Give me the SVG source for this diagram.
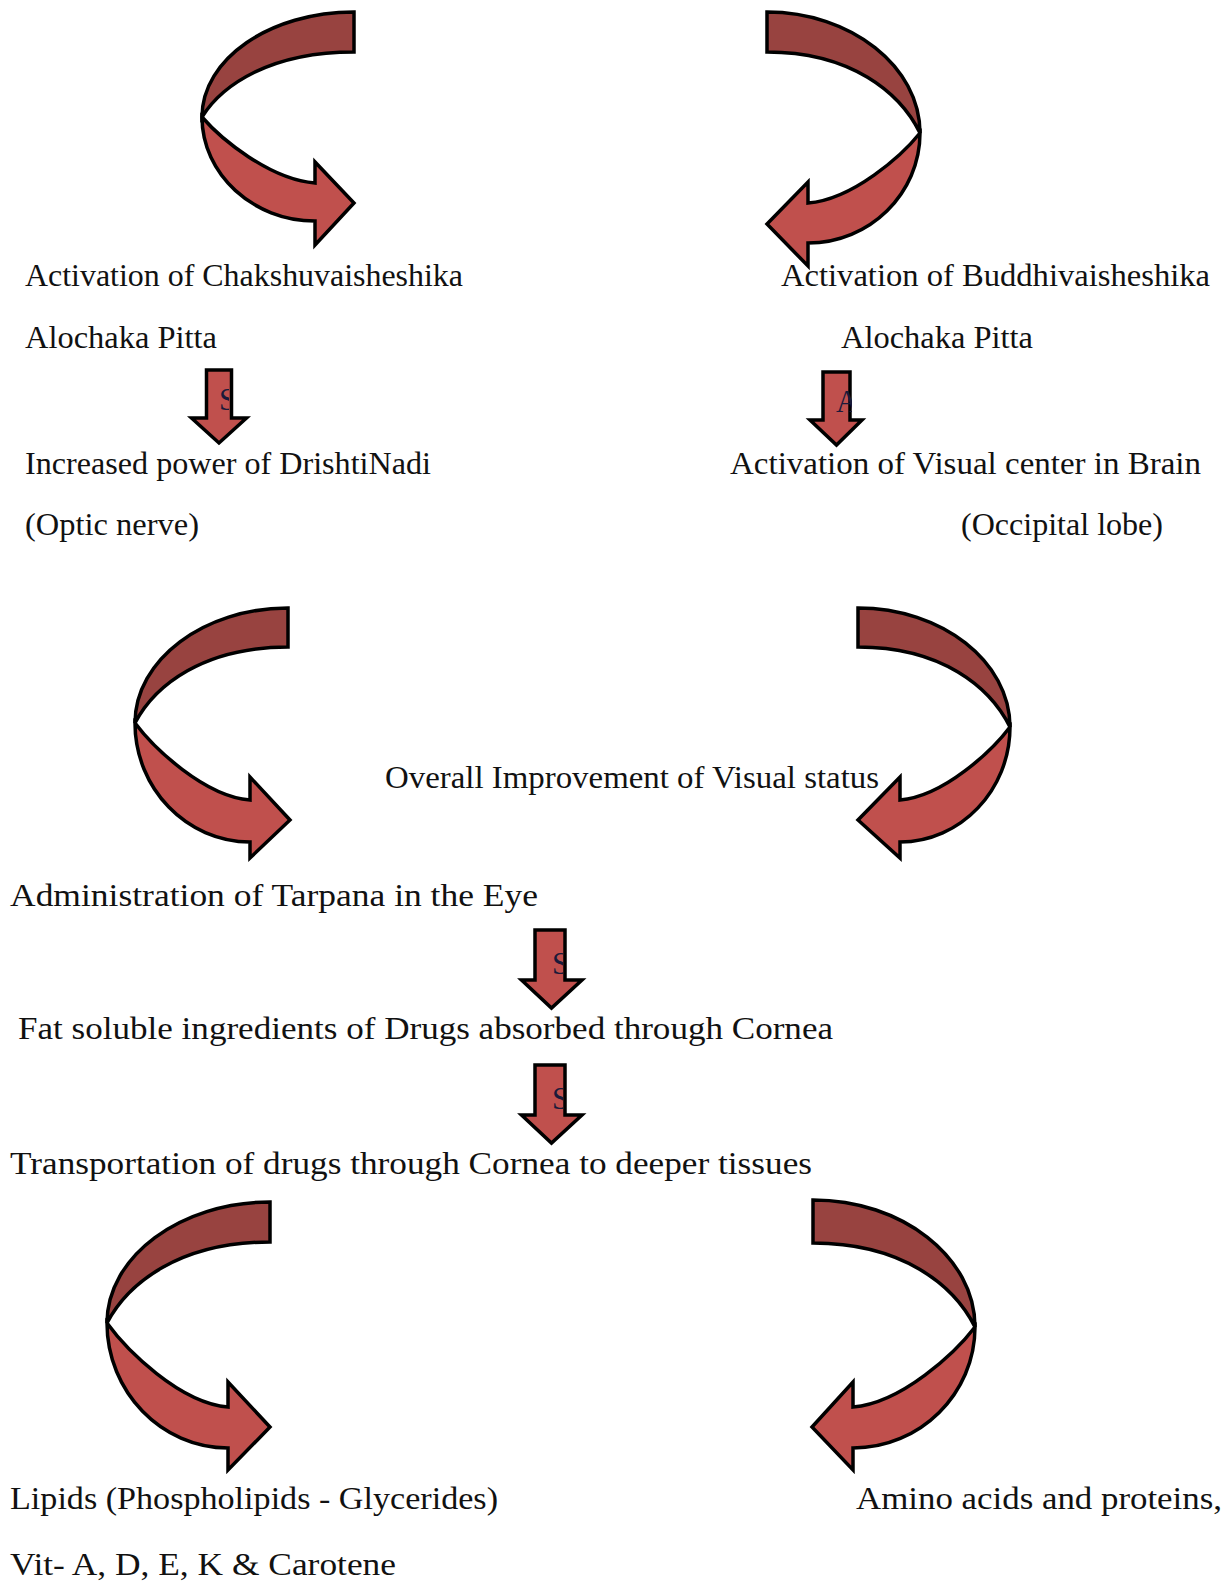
<svg xmlns="http://www.w3.org/2000/svg" width="1231" height="1583" viewBox="0 0 1231 1583">
<style>
.t{font-family:"Liberation Serif","Times New Roman",serif;font-size:32px;fill:#111}
.lbl{font-family:"Liberation Serif","Times New Roman",serif;font-size:31px;fill:#1a1a3a}
.up{fill:#984340;stroke:#000;stroke-width:3.5;stroke-linejoin:miter}
.lo{fill:#C0504D;stroke:#000;stroke-width:3.5;stroke-linejoin:miter}
.sa{fill:#C0504D;stroke:#000;stroke-width:3.5;stroke-linejoin:miter}
</style>
<defs>
<clipPath id="cA"><rect x="205" y="370" width="24" height="50"/></clipPath>
<clipPath id="cB"><rect x="823" y="370" width="29" height="50"/></clipPath>
<clipPath id="cC"><rect x="535" y="930" width="28" height="50"/></clipPath>
<clipPath id="cD"><rect x="535" y="1065" width="28" height="50"/></clipPath>
</defs>
<rect width="1231" height="1583" fill="#fff"/>
<g id="connectors">
<g id="curve1">
<path class="up" d="M354,12 C270,12 202,59 202,117 C222,85 270,52 354,52 Z"/>
<path class="lo" d="M202,117 C202,174 253,221 315,221 L315,245 L354,203 L315,162 L315,183 C269.8,179.7 220.1,138.1 202,117 Z"/>
</g>
<g id="curve2">
<path class="up" d="M767,12 C851,12 920,66.5 920,133 C900,92.5 851,52 767,52 Z"/>
<path class="lo" d="M920,133 C920,193.5 869.6,243 808,243 L808,266 L767,224 L808,182 L808,203 C852.8,199.5 902.1,155.4 920,133 Z"/>
</g>
<g id="curve3">
<path class="up" d="M288,608 C203.9,608 135,659.75 135,723 C154.9,685 203.9,647 288,647 Z"/>
<path class="lo" d="M135,723 C135,788.5 186.75,842 250,842 L250,858 L290,820 L250,777 L250,800 C204,796.2 153.4,747.6 135,723 Z"/>
</g>
<g id="curve4">
<path class="up" d="M858,608 C941.6,608 1010,661.5 1010,727 C990.2,687 941.6,647 858,647 Z"/>
<path class="lo" d="M1010,727 C1010,790 960.5,842 900,842 L900,858 L858,820 L900,777 L900,800 C944,796.4 992.4,750.4 1010,727 Z"/>
</g>
<g id="curve5">
<path class="up" d="M270,1202 C180.35,1202 107,1256.45 107,1323 C128.2,1282.5 180.35,1242 270,1242 Z"/>
<path class="lo" d="M107,1323 C107,1391.75 161.45,1448 228,1448 L228,1470 L270,1427 L228,1382 L228,1407 C179.6,1402.8 126.4,1349.9 107,1323 Z"/>
</g>
<g id="curve6">
<path class="up" d="M813,1200 C902.1,1200 975,1257.15 975,1327 C954,1285 902.1,1243 813,1243 Z"/>
<path class="lo" d="M975,1327 C975,1393.55 920.1,1448 853,1448 L853,1470 L812,1427 L853,1382 L853,1407 C901.8,1403 955.5,1352.6 975,1327 Z"/>
</g>
<g id="down1">
<path class="sa" d="M206.5,370 L231.5,370 L231.5,418 L246.5,418 L219,443 L191.5,418 L206.5,418 Z"/>
<text class="lbl" x="219" y="410" clip-path="url(#cA)">S</text>
</g>
<g id="down2">
<path class="sa" d="M823,372 L850,372 L850,420 L862,420 L836.5,445 L810,420 L823,420 Z"/>
<text class="lbl" x="836" y="412" clip-path="url(#cB)">A</text>
</g>
<g id="down3">
<path class="sa" d="M535,930 L565,930 L565,980 L582,980 L551.5,1008 L521.5,980 L535,980 Z"/>
<text class="lbl" x="552" y="974" clip-path="url(#cC)">S</text>
</g>
<g id="down4">
<path class="sa" d="M535,1065 L565,1065 L565,1115 L582,1115 L551.5,1143 L521.5,1115 L535,1115 Z"/>
<text class="lbl" x="552" y="1109" clip-path="url(#cD)">S</text>
</g>
</g>
<g id="n1"><text class="t" x="25" y="286" textLength="438" lengthAdjust="spacingAndGlyphs">Activation of Chakshuvaisheshika</text></g>
<g id="n2"><text class="t" x="25" y="348" textLength="192" lengthAdjust="spacingAndGlyphs">Alochaka Pitta</text></g>
<g id="n3"><text class="t" x="781" y="286" textLength="429" lengthAdjust="spacingAndGlyphs">Activation of Buddhivaisheshika</text></g>
<g id="n4"><text class="t" x="841" y="348" textLength="192" lengthAdjust="spacingAndGlyphs">Alochaka Pitta</text></g>
<g id="n5"><text class="t" x="25" y="474" textLength="406" lengthAdjust="spacingAndGlyphs">Increased power of DrishtiNadi</text></g>
<g id="n6"><text class="t" x="25" y="535" textLength="174" lengthAdjust="spacingAndGlyphs">(Optic nerve)</text></g>
<g id="n7"><text class="t" x="730" y="474" textLength="471" lengthAdjust="spacingAndGlyphs">Activation of Visual center in Brain</text></g>
<g id="n8"><text class="t" x="961" y="535" textLength="202" lengthAdjust="spacingAndGlyphs">(Occipital lobe)</text></g>
<g id="n9"><text class="t" x="385" y="788" textLength="494" lengthAdjust="spacingAndGlyphs">Overall Improvement of Visual status</text></g>
<g id="n10"><text class="t" x="10" y="906" textLength="528" lengthAdjust="spacingAndGlyphs">Administration of Tarpana in the Eye</text></g>
<g id="n11"><text class="t" x="18" y="1039" textLength="815" lengthAdjust="spacingAndGlyphs">Fat soluble ingredients of Drugs absorbed through Cornea</text></g>
<g id="n12"><text class="t" x="10" y="1174" textLength="802" lengthAdjust="spacingAndGlyphs">Transportation of drugs through Cornea to deeper tissues</text></g>
<g id="n13"><text class="t" x="10" y="1509" textLength="488" lengthAdjust="spacingAndGlyphs">Lipids (Phospholipids - Glycerides)</text></g>
<g id="n14"><text class="t" x="10" y="1575" textLength="386" lengthAdjust="spacingAndGlyphs">Vit- A, D, E, K &amp; Carotene</text></g>
<g id="n15"><text class="t" x="856" y="1509" textLength="366" lengthAdjust="spacingAndGlyphs">Amino acids and proteins,</text></g>
</svg>
